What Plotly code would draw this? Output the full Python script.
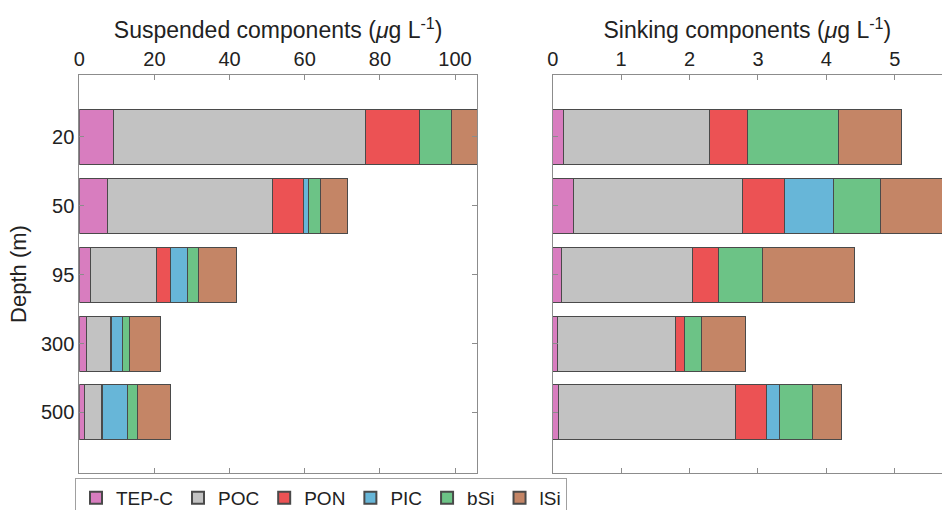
import plotly.graph_objects as go

depths = ["20", "50", "95", "300", "500"]
components = ["TEP-C", "POC", "PON", "PIC", "bSi", "lSi"]
colors = ["#D87DBF", "#C2C2C2", "#EC5254", "#67B6D8", "#6CC386", "#C48566"]

# Suspended components (ug/L), per depth
susp_tep = [9.15, 7.55, 3.0, 1.8, 1.35]
susp_poc = [67.0, 43.95, 17.5, 6.4, 4.55]
susp_pon = [14.5, 8.2, 3.7, 0.4, 0.4]
susp_pic = [0.0, 1.35, 4.7, 2.85, 6.6]
susp_bsi = [8.5, 3.05, 2.8, 1.85, 2.7]
susp_lsi = [8.0, 7.2, 10.2, 8.3, 8.8]

# Sinking components (ug/L), per depth
sink_tep = [0.155, 0.307, 0.126, 0.073, 0.082]
sink_poc = [2.13, 2.46, 1.914, 1.717, 2.583]
sink_pon = [0.555, 0.62, 0.38, 0.13, 0.465]
sink_pic = [0.0, 0.72, 0.0, 0.0, 0.18]
sink_bsi = [1.33, 0.69, 0.65, 0.25, 0.49]
sink_lsi = [0.93, 1.1, 1.345, 0.65, 0.42]

susp = [susp_tep, susp_poc, susp_pon, susp_pic, susp_bsi, susp_lsi]
sink = [sink_tep, sink_poc, sink_pon, sink_pic, sink_bsi, sink_lsi]

FONT = "Liberation Sans, Arial, Helvetica, sans-serif"
TXT = "#222222"
AXC = "#8c8c8c"

fig = go.Figure()
for i, name in enumerate(components):
    fig.add_trace(go.Bar(
        y=depths, x=susp[i], orientation="h", name=name,
        marker=dict(color=colors[i], line=dict(color="#4a4a4a", width=1)),
        xaxis="x", yaxis="y", legendgroup=name, showlegend=True))
for i, name in enumerate(components):
    fig.add_trace(go.Bar(
        y=depths, x=sink[i], orientation="h", name=name,
        marker=dict(color=colors[i], line=dict(color="#4a4a4a", width=1)),
        xaxis="x2", yaxis="y2", legendgroup=name, showlegend=False))

ydom = [37 / 510, 435 / 510]
common_x = dict(side="top", ticks="inside", ticklen=5, tickcolor=AXC,
                showline=True, linecolor=AXC, linewidth=1, mirror="ticks",
                showgrid=False, zeroline=False, automargin=False,
                tickfont=dict(size=20, color=TXT, family=FONT),
                title_font=dict(size=23, color=TXT, family=FONT))

fig.update_layout(
    width=942, height=510,
    margin=dict(l=0, r=0, t=0, b=0, autoexpand=False),
    paper_bgcolor="white", plot_bgcolor="white",
    barmode="stack", bargap=0.2,
    font=dict(family=FONT, color=TXT),
    xaxis=dict(domain=[79.3 / 942, 477 / 942], range=[0, 105.85],
               tickvals=[0, 20, 40, 60, 80, 100], anchor="y",
               title=dict(text="Suspended components (<i>μ</i>g L<sup>-1</sup>)", standoff=2),
               **common_x),
    xaxis2=dict(domain=[552.7 / 942, 1.0], range=[0, 5.69],
                tickvals=[0, 1, 2, 3, 4, 5], anchor="y2",
                title=dict(text="Sinking components (<i>μ</i>g L<sup>-1</sup>)", standoff=2),
                **common_x),
    yaxis=dict(domain=ydom, type="category", range=[4.88, -0.9],
               ticks="inside", ticklen=5, tickcolor=AXC,
               showline=True, linecolor=AXC, linewidth=1, mirror="ticks",
               showgrid=False, zeroline=False, automargin=False, anchor="x",
               tickfont=dict(size=20, color=TXT, family=FONT),
               title=dict(text="Depth (m)", font=dict(size=22, color=TXT, family=FONT), standoff=8)),
    yaxis2=dict(domain=ydom, type="category", range=[4.88, -0.9],
                ticks="inside", ticklen=5, tickcolor=AXC, showticklabels=False,
                showline=True, linecolor=AXC, linewidth=1, mirror=False,
                showgrid=False, zeroline=False, automargin=False, anchor="x2"),
    legend=dict(orientation="h", x=75 / 942, xanchor="left", y=32 / 510, yanchor="top",
                bordercolor="#a0a0a0", borderwidth=1, bgcolor="white",
                font=dict(size=19, color=TXT, family=FONT), traceorder="normal",
                itemsizing="constant"),
)

fig.write_html("out.html")
